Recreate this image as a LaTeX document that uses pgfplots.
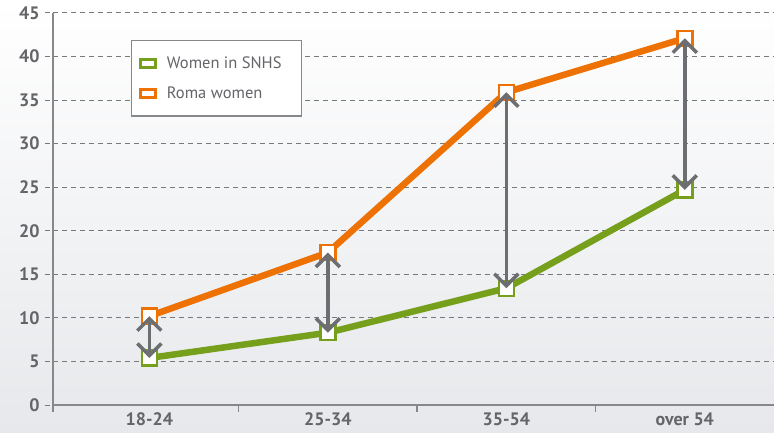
\documentclass[border=0pt]{standalone}
\usepackage{pgfplots}
\pgfplotsset{compat=1.18}
\usepackage{fontspec}
\setmainfont{PT Sans}
\usetikzlibrary{arrows.meta}

\definecolor{romaorange}{RGB}{238,114,3}
\definecolor{snhsgreen}{RGB}{118,160,28}
\definecolor{arrowgray}{RGB}{109,110,113}
\definecolor{textgray}{RGB}{100,100,105}
\definecolor{axisgray}{RGB}{135,135,140}
\definecolor{gridgray}{RGB}{120,120,125}
\definecolor{bgbot}{RGB}{230,232,235}

\begin{document}
\begin{tikzpicture}
% soft vertical gradient behind the chart
\fill[top color=white, bottom color=bgbot] (-53pt,-27pt) rectangle (721pt,405pt);
\begin{axis}[
  scale only axis, width=721pt, height=392pt,
  xmin=-0.54, xmax=3.5, ymin=0, ymax=45,
  clip=false, clip marker paths=true,
  axis lines*=left,
  axis line style={axisgray, line width=1.5pt},
  ytick={0,5,...,45},
  xtick={0,1,2,3},
  xticklabels={18-24,25-34,35-54,over 54},
  minor xtick={-0.54,0.5,1.5,2.5},
  tick align=outside,
  major tick length=8pt,
  minor tick length=7pt,
  major x tick style={draw=none},
  minor x tick style={axisgray, line width=1.5pt},
  major y tick style={gridgray, line width=1pt, dash pattern=on 5pt off 4pt},
  ymajorgrids,
  grid style={gridgray, line width=1pt, dash pattern=on 5pt off 4pt},
  /pgf/number format/assume math mode=true,
  ticklabel style={font=\bfseries\fontsize{18}{18}\selectfont, text=textgray},
  yticklabel style={xshift=-2pt},
  xticklabel style={yshift=4pt},
  legend style={at={(0.108,0.931)}, anchor=north west, draw=axisgray,
    line width=1.2pt, fill=white, font=\fontsize{16.5}{16.5}\selectfont,
    text=textgray, inner xsep=8pt, inner ysep=14pt, row sep=13pt},
  legend cell align=left,
]
\addplot[snhsgreen, line width=6.5pt, mark=square*, mark size=7.5pt,
  mark options={fill=white, line width=2.5pt},
  legend image code/.code={\draw[snhsgreen, line width=2.5pt, fill=white] (3pt,-4pt) rectangle (18pt,4pt);
    \path (24pt,0pt);}]
  coordinates {(0,5.4) (1,8.3) (2,13.4) (3,24.7)};
\addlegendentry{Women in SNHS\hspace*{10pt}}
\addplot[romaorange, line width=6.5pt, mark=square*, mark size=7.5pt,
  mark options={fill=white, line width=2.5pt},
  legend image code/.code={\draw[romaorange, line width=2.5pt, fill=white] (3pt,-4pt) rectangle (18pt,4pt);
    \path (24pt,0pt);}]
  coordinates {(0,10.2) (1,17.5) (2,35.9) (3,42.1)};
\addlegendentry{Roma women}

% gaps between the two groups
\pgfplotsset{gap/.style={arrowgray, line width=3.5pt, forget plot,
  {Straight Barb[length=12pt,width=24pt,line width=3.5pt]}-{Straight Barb[length=12pt,width=24pt,line width=3.5pt]}}}
\addplot[gap] coordinates {(0,5.4) (0,10.2)};
\addplot[gap] coordinates {(1,8.3) (1,17.5)};
\addplot[gap] coordinates {(2,13.4) (2,35.9)};
\addplot[gap] coordinates {(3,24.7) (3,42.1)};
\end{axis}
\pgfresetboundingbox
\useasboundingbox (-53pt,-27pt) rectangle (721pt,405pt);
\end{tikzpicture}
\end{document}
